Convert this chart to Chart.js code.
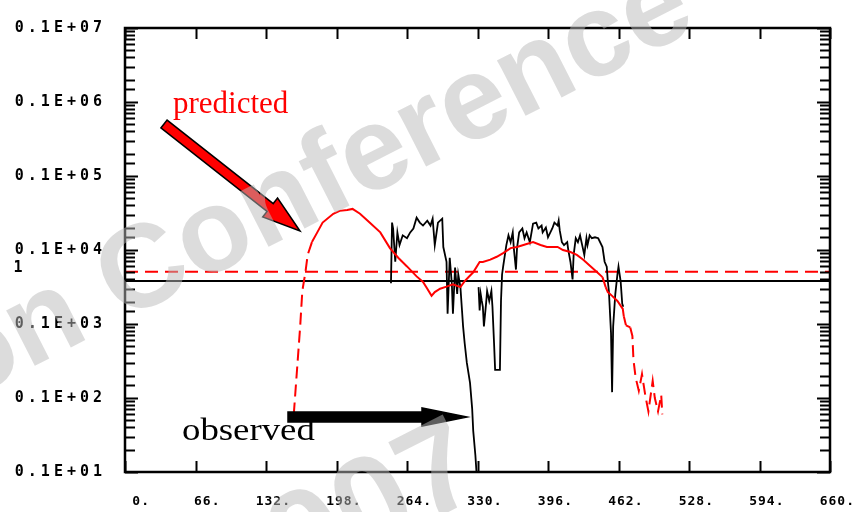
<!DOCTYPE html>
<html>
<head>
<meta charset="utf-8">
<script src="https://cdn.jsdelivr.net/npm/chart.js@4/dist/chart.umd.min.js"></script>
<style>
  html, body { margin: 0; padding: 0; background: #fff; }
  #grafico { display: block; }
</style>
</head>
<body>
<canvas id="grafico" width="865" height="512"></canvas>
<script>
// Curva prevista (vermelha)
const predX = [158, 164, 166, 169, 171, 175, 180, 185, 195, 201, 208, 213, 220, 229, 239, 248, 256, 264, 273, 279,
               283, 287, 290, 295, 301, 307, 314, 318, 326, 332, 335, 342, 348, 354, 361, 367, 373, 382, 389, 395,
               405, 410, 417, 423, 429, 436, 442, 447, 450, 452, 456, 461, 466, 467, 469, 473, 475, 476, 478, 481,
               484, 487, 490, 494, 496, 499, 502, 503];
const predY = [6, 93, 280, 510, 860, 1280, 1730, 2350, 3090, 3380, 3480, 3590, 3090, 2350, 1730, 1060, 780, 600, 440, 370,
               300, 240, 270, 300, 320, 345, 315, 380, 500, 690, 690, 740, 810, 910, 1060, 1100, 1170, 1280, 1170, 1100,
               1100, 1000, 940, 860, 740, 600, 500, 430, 315, 270, 240, 205, 160, 126, 96, 90, 69, 33, 19, 12.5,
               21, 11, 6.6, 17, 10, 6.6, 11, 6];

// Curva observada (preta) - null = sem leitura
const obsX = [249, 250, 251, 253, 255, 257, 260, 264, 267, 270, 273, 276, 279, 283, 286, 288, 290, 293, 297, 298,
              301, 302, 304, 306, 307, 309, 311, 312, 314, 315.5, 316.5, 318, 320, 323, 325, 326, 328, 329.5, 330,
              331, 332, 333, 334, 335, 336, 338, 339, 341, 343, 344, 345.5, 346.5, 351, 352, 353, 354, 357, 359, 361,
              363, 364, 366, 367, 369, 372, 374, 376, 379, 382, 385, 387, 390, 391, 394, 396, 400, 402, 405, 406,
              407, 409, 411, 414, 415, 417, 419, 420, 422, 424, 426, 428, 430, 432, 433, 435, 437, 440, 443, 447,
              449, 451, 452, 453, 455, 456, 457, 459, 461, 462, 464, 465.5, 466.5];
const obsY = [356, 2345, 1953, 694, 1729, 1165, 1578, 1442, 1729, 1953, 2730, 2345, 2140, 2490, 2140, 2650, 1165, 2345, 2650, 1096,
              694, 138, 784, 345, 138, 578, 254, 467, 315, 152, 93, 55, 30, 16, 7.2, 3.6, 1.7, 0.8, null,
              315, 152, 254, 205, 171, 93, 187, 279, 205, 279, 171, 55, 24, 24, 205, 467, 596, 1165, 1578, 1276,
              1729, 1062, 544, 1062, 1729, 1953, 1442, 1729, 1276, 2275, 2345, 1953, 2140, 1729, 2013, 1486, 1953, 2345, 2140, 2490,
              1837, 1276, 1165, 1276, 1000, 694, 401, 859, 1442, 1276, 1578, 1165, 859, 1442, 1165, 1578, 1442, 1486, 1442, 1096,
              694, 596, 378, 279, 75, 12, 93, 254, 467, 596, 378, 187, 171];

// Linhas horizontais de referência
const nivelPrevisto = 510;
const nivelObservado = 380;

// Eixos
const limitesX = [0, 660];
const passoX = 66;
const limitesY = [1, 1e6];

const pontos = (xs, ys) => xs.map((x, i) => ({ x: x, y: ys[i] }));
const linhaH = (v) => limitesX.map(x => ({ x: x, y: v }));

// trechos quase verticais da curva prevista saem tracejados
function ingreme(c) {
    const dx = Math.abs(c.p1.x - c.p0.x), dy = Math.abs(c.p1.y - c.p0.y);
    return dy > 8 && dy > 2.5 * dx;
}

function desenharSeta(ctx, x0, y0, x1, y1, corpo, cabeca, compCabeca, cor) {
    const len = Math.hypot(x1 - x0, y1 - y0);
    const dx = (x1 - x0) / len, dy = (y1 - y0) / len;
    const nx = -dy, ny = dx;
    const bx = x1 - dx * compCabeca, by = y1 - dy * compCabeca;
    ctx.beginPath();
    ctx.moveTo(x0 + nx * corpo / 2, y0 + ny * corpo / 2);
    ctx.lineTo(bx + nx * corpo / 2, by + ny * corpo / 2);
    ctx.lineTo(bx + nx * cabeca / 2, by + ny * cabeca / 2);
    ctx.lineTo(x1, y1);
    ctx.lineTo(bx - nx * cabeca / 2, by - ny * cabeca / 2);
    ctx.lineTo(bx - nx * corpo / 2, by - ny * corpo / 2);
    ctx.lineTo(x0 - nx * corpo / 2, y0 - ny * corpo / 2);
    ctx.closePath();
    ctx.fillStyle = cor;
    ctx.fill();
    ctx.strokeStyle = '#000';
    ctx.lineWidth = 1.5;
    ctx.stroke();
}

// moldura, marcas internas dos eixos, anotações e marca d'água
const moldura = {
    id: 'moldura',
    beforeDraw(chart) { chart.ctx.letterSpacing = '4px'; },
    afterDatasetsDraw(chart) { chart.ctx.letterSpacing = '1px'; },
    afterDraw(chart) {
        const ctx = chart.ctx;
        ctx.letterSpacing = '0px';
        const { left, right, top, bottom } = chart.chartArea;
        const sx = chart.scales.x, sy = chart.scales.y;

        ctx.save();
        ctx.strokeStyle = '#000';
        ctx.lineWidth = 2;
        ctx.beginPath();
        sy.ticks.forEach(t => {
            const py = Math.round(sy.getPixelForValue(t.value)) + 0.5;
            const e = Math.log10(t.value);
            const len = Math.abs(e - Math.round(e)) < 1e-6 ? 13 : 10;
            ctx.moveTo(left, py); ctx.lineTo(left + len, py);
            ctx.moveTo(right, py); ctx.lineTo(right - len, py);
        });
        sx.ticks.forEach(t => {
            const px = Math.round(sx.getPixelForValue(t.value)) + 0.5;
            ctx.moveTo(px, bottom); ctx.lineTo(px, bottom - 11);
            ctx.moveTo(px, top); ctx.lineTo(px, top + 11);
        });
        ctx.stroke();
        ctx.lineWidth = 2.5;
        ctx.strokeRect(left, top, right - left, bottom - top);

        ctx.fillStyle = '#000';
        ctx.font = 'bold 15px "DejaVu Sans Mono"';
        ctx.textAlign = 'center';
        ctx.textBaseline = 'middle';
        ctx.fillText('1', 18, 268);

        desenharSeta(ctx, 164, 124, 300, 231, 10, 24, 38, '#ff0000');
        desenharSeta(ctx, 288, 417, 467, 417, 10, 18, 45, '#000000');

        ctx.textAlign = 'left';
        ctx.textBaseline = 'alphabetic';
        ctx.fillStyle = '#ff0000';
        ctx.font = '31px "Liberation Serif"';
        ctx.fillText('predicted', 173, 113);

        ctx.save();
        ctx.translate(182, 440);
        ctx.scale(1.15, 1);
        ctx.fillStyle = '#000';
        ctx.font = '32px "Liberation Serif"';
        ctx.fillText('observed', 0, 0);
        ctx.restore();

        // marca d'água inclinada por cima de tudo
        ctx.translate(121, 322);
        ctx.rotate(-27 * Math.PI / 180);
        ctx.fillStyle = 'rgba(185,185,185,0.5)';
        ctx.font = 'bold 118px "Liberation Sans"';
        ctx.textAlign = 'right';
        ctx.fillText('Simulation ', 0, 0);
        ctx.textAlign = 'left';
        ctx.fillText('Conference', 0, 0);
        ctx.font = 'bold 130px "Liberation Sans"';
        ctx.fillText('2007', -39, 318);
        ctx.restore();
    }
};

new Chart(document.getElementById('grafico'), {
    type: 'line',
    data: {
        datasets: [
            {
                label: 'predicted',
                data: pontos(predX, predY),
                borderColor: '#ff0000',
                borderWidth: 2,
                pointRadius: 0,
                order: 0,
                segment: { borderDash: c => ingreme(c) ? [12, 6] : undefined }
            },
            {
                label: 'observed',
                data: pontos(obsX, obsY),
                borderColor: '#000000',
                borderWidth: 1.8,
                pointRadius: 0,
                order: 1
            },
            {
                label: 'nivel previsto',
                data: linhaH(nivelPrevisto),
                borderColor: '#ff0000',
                borderWidth: 2,
                borderDash: [13, 7],
                pointRadius: 0,
                order: 2
            },
            {
                label: 'nivel observado',
                data: linhaH(nivelObservado),
                borderColor: '#000000',
                borderWidth: 2,
                pointRadius: 0,
                order: 3
            }
        ]
    },
    options: {
        responsive: false,
        animation: false,
        devicePixelRatio: 1,
        layout: { padding: { top: 18, right: 35, left: 0, bottom: 0 } },
        plugins: { legend: { display: false }, tooltip: { enabled: false } },
        scales: {
            x: {
                type: 'linear',
                min: limitesX[0],
                max: limitesX[1],
                afterFit: s => { s.height = 40; },
                grid: { display: false, drawTicks: false },
                border: { display: false },
                ticks: {
                    stepSize: passoX,
                    autoSkip: false,
                    maxRotation: 0,
                    align: 'end',
                    labelOffset: 25,
                    padding: 22,
                    z: 1,
                    color: '#000',
                    font: { family: 'DejaVu Sans Mono', size: 13, weight: 'bold' },
                    callback: v => v + '.'
                }
            },
            y: {
                type: 'logarithmic',
                min: limitesY[0],
                max: limitesY[1],
                afterFit: s => { s.width = 125; },
                grid: { display: false, drawTicks: false },
                border: { display: false },
                ticks: {
                    autoSkip: false,
                    padding: 19,
                    color: '#000',
                    font: { family: 'DejaVu Sans Mono', size: 15, weight: 'bold' },
                    callback: v => {
                        const e = Math.log10(v);
                        if (Math.abs(e - Math.round(e)) > 1e-6) return '';
                        return '0.1E+' + String(Math.round(e) + 1).padStart(2, '0');
                    }
                }
            }
        }
    },
    plugins: [moldura]
});
</script>
</body>
</html>
